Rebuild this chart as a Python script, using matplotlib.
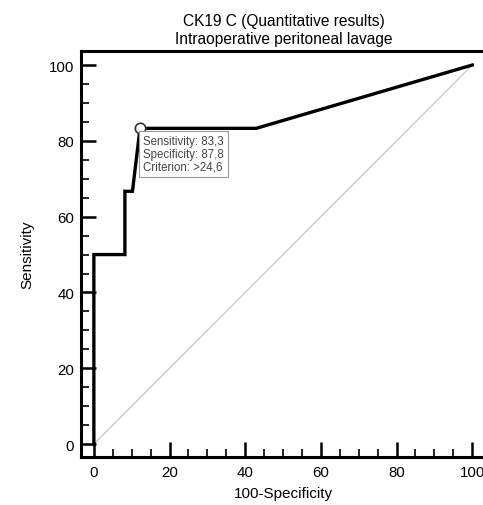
import matplotlib
matplotlib.use("Agg")
import matplotlib.pyplot as plt
from matplotlib.ticker import MultipleLocator

plt.rcParams['font.family'] = ['Liberation Sans', 'DejaVu Sans']

# ROC curve points (100-Specificity, Sensitivity)
fpr = [0, 0, 8.2, 8.2, 10.2, 12.2, 42.9, 100]
tpr = [0, 50, 50, 66.7, 66.7, 83.3, 83.3, 100]
best_x, best_y = 12.2, 83.3
note = "Sensitivity: 83,3\nSpecificity: 87,8\nCriterion: >24,6"

fig = plt.figure(figsize=(4.83, 5.06), dpi=100)
ax = fig.add_axes([0.1677, 0.0949, 0.839, 0.8023])

ax.plot([0, 100], [0, 100], color='#c8c8c8', lw=0.9, zorder=1)
ax.plot(fpr, tpr, color='black', lw=2.4, solid_joinstyle='miter', zorder=2)
ax.plot(best_x, best_y, 'o', ms=7.5, mfc='white', mec='#333333', mew=1.2, zorder=3)
ax.text(best_x + 0.9, best_y - 1.8, note, fontsize=8.3, color='#444444', va='top', ha='left',
        linespacing=1.1,
        bbox=dict(boxstyle='square,pad=0.35', fc='white', ec='#999999', lw=0.8), zorder=4)

ax.set_xlim(-3.4, 103.7)
ax.set_ylim(-3.4, 103.7)
ax.xaxis.set_major_locator(MultipleLocator(20))
ax.yaxis.set_major_locator(MultipleLocator(20))
ax.xaxis.set_minor_locator(MultipleLocator(5))
ax.yaxis.set_minor_locator(MultipleLocator(5))
ax.tick_params(which='major', direction='in', length=11, width=1.8, labelsize=10.8)
ax.tick_params(which='minor', direction='in', length=6, width=1.2)
ax.tick_params(axis='x', which='major', pad=6)
ax.tick_params(axis='y', which='major', pad=5)
for s in ax.spines.values():
    s.set_linewidth(2.2)

ax.set_xlabel("100-Specificity", fontsize=11, labelpad=5)
ax.set_ylabel("Sensitivity", fontsize=11, labelpad=10)
ax.set_title("CK19 C (Quantitative results)\nIntraoperative peritoneal lavage", fontsize=11.2, pad=6)

fig.savefig("out.png", dpi=100)
